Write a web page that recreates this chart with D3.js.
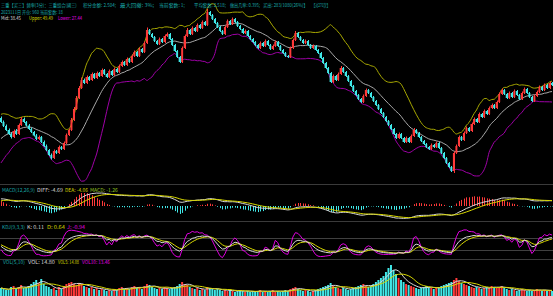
<!DOCTYPE html>
<html>
<head>
<meta charset="utf-8">
<script src="https://cdn.jsdelivr.net/npm/d3@7"></script>
<style>
  html, body { margin: 0; padding: 0; background: #000; overflow: hidden; }
  svg { display: block; }
</style>
</head>
<body>
<script>
// ---- data ----
var warmCloses = [8.0,7.0,6.5,7.0,8.0,7.5,8.5,9.0,10.0,9.5,10.5,11.0,12.0,11.5,13.0,14.0,13.5,14.5,15.5,16.0];

var opens = [
16.4,15.6,14.8,14.0,13.2,12.6,13.8,13.2,15.0,16.2,
15.6,14.9,14.2,13.6,12.9,12.2,12.6,11.6,10.8,10.0,
9.0,8.4,9.8,9.4,10.6,10.2,11.4,13.0,14.0,16.0,
18.2,20.4,22.4,24.0,23.4,24.6,24.0,25.2,24.4,25.4,
24.8,26.0,25.2,24.6,25.8,25.0,26.2,25.6,26.8,27.6,
27.0,28.2,27.6,28.8,29.6,28.8,30.2,29.6,31.4,34.0,
33.2,32.6,31.8,31.2,32.2,31.6,32.8,33.2,32.2,31.0,
29.8,28.6,27.6,30.4,32.8,34.0,33.2,34.4,33.8,35.0,
34.4,35.6,35.0,37.6,37.0,36.2,35.4,34.6,33.8,33.2,
34.6,35.8,35.2,36.2,35.6,34.8,34.2,33.4,33.8,32.8,
32.2,31.6,31.0,30.4,31.4,30.8,31.8,31.0,30.2,30.8,
31.6,30.8,30.0,29.4,28.8,28.6,30.4,32.0,33.4,32.6,
32.0,31.4,31.8,31.0,30.4,30.8,30.0,29.4,28.4,27.4,
26.4,25.4,23.6,24.8,24.0,25.2,26.4,25.6,24.8,23.8,
22.8,21.8,21.0,20.2,19.6,20.8,22.0,21.4,20.6,19.8,
19.0,18.2,17.4,16.6,15.8,15.0,14.2,13.2,12.4,13.2,
12.4,11.6,12.4,11.6,12.8,14.0,13.4,12.6,11.8,11.2,
10.6,10.2,11.0,10.6,11.4,10.4,9.4,8.4,7.4,6.6,
5.8,9.4,10.8,12.6,12.0,13.4,14.4,13.8,15.2,16.2,
15.6,17.2,16.6,17.8,17.2,18.4,19.0,18.4,19.6,21.2,
22.0,21.2,20.4,21.4,20.6,21.8,21.0,20.2,21.4,22.2,
21.4,20.6,19.8,20.8,21.6,22.6,22.0,23.0,22.4,23.4];

var closes = [
15.6,14.8,14.0,13.2,12.6,13.8,13.2,15.0,16.2,15.6,
14.9,14.2,13.6,12.9,12.2,12.6,11.6,10.8,10.0,9.0,
8.4,9.8,9.4,10.6,10.2,11.4,13.0,14.0,16.0,18.2,
20.4,22.4,24.0,23.4,24.6,24.0,25.2,24.4,25.4,24.8,
26.0,25.2,24.6,25.8,25.0,26.2,25.6,26.8,27.6,27.0,
28.2,27.6,28.8,29.6,28.8,30.2,29.6,31.4,34.0,33.2,
32.6,31.8,31.2,32.2,31.6,32.8,33.2,32.2,31.0,29.8,
28.6,27.6,30.4,32.8,34.0,33.2,34.4,33.8,35.0,34.4,
35.6,35.0,37.6,37.0,36.2,35.4,34.6,33.8,33.2,34.6,
35.8,35.2,36.2,35.6,34.8,34.2,33.4,33.8,32.8,32.2,
31.6,31.0,30.4,31.4,30.8,31.8,31.0,30.2,30.8,31.6,
30.8,30.0,29.4,28.8,28.6,30.4,32.0,33.4,32.6,32.0,
31.4,31.8,31.0,30.4,30.8,30.0,29.4,28.4,27.4,26.4,
25.4,23.6,24.8,24.0,25.2,26.4,25.6,24.8,23.8,22.8,
21.8,21.0,20.2,19.6,20.8,22.0,21.4,20.6,19.8,19.0,
18.2,17.4,16.6,15.8,15.0,14.2,13.2,12.4,13.2,12.4,
11.6,12.4,11.6,12.8,14.0,13.4,12.6,11.8,11.2,10.6,
10.2,11.0,10.6,11.4,10.4,9.4,8.4,7.4,6.6,5.8,
9.4,10.8,12.6,12.0,13.4,14.4,13.8,15.2,16.2,15.6,
17.2,16.6,17.8,17.2,18.4,19.0,18.4,19.6,21.2,22.0,
21.2,20.4,21.4,20.6,21.8,21.0,20.2,21.4,22.2,21.4,
20.6,19.8,20.8,21.6,22.6,22.0,23.0,22.4,23.4,23.0];

var highs = [
16.7,15.9,15.1,14.3,13.5,14.1,14.2,15.3,16.6,16.5,
15.8,15.2,14.5,13.8,13.2,12.9,12.8,11.9,11.1,10.2,
9.3,10.1,10.0,10.9,10.8,11.7,13.3,14.3,16.4,18.6,
20.8,22.8,24.5,24.3,24.9,24.8,25.5,25.4,25.7,25.6,
26.3,26.2,25.4,26.1,26.0,26.5,26.4,27.1,27.9,27.8,
28.5,28.4,29.1,29.9,29.8,30.5,30.4,31.7,34.5,34.2,
33.4,32.8,32.0,32.5,32.4,33.1,33.5,33.4,32.4,31.2,
30.0,28.8,30.7,33.1,34.4,34.2,34.7,34.6,35.3,35.2,
35.9,35.8,38.2,37.8,37.2,36.4,35.6,34.8,34.0,34.9,
36.1,36.0,36.5,36.4,35.8,35.0,34.4,34.1,34.0,33.0,
32.4,31.8,31.2,31.7,31.6,32.1,32.0,31.2,31.1,31.9,
31.8,31.0,30.2,29.6,29.0,30.7,32.3,33.8,33.6,32.8,
32.2,32.1,32.0,31.2,31.1,31.0,30.2,29.6,28.6,27.6,
26.6,25.6,25.1,25.0,25.5,26.8,26.6,25.8,25.0,24.0,
23.0,22.0,21.2,20.4,21.1,22.3,22.2,21.6,20.8,20.0,
19.2,18.4,17.6,16.8,16.0,15.2,14.4,13.4,13.5,13.4,
12.6,12.7,12.6,13.1,14.4,14.2,13.6,12.8,12.0,11.4,
10.8,11.3,11.2,11.7,11.6,10.6,9.6,8.6,7.6,6.8,
9.7,11.1,12.9,12.8,13.7,14.7,14.6,15.5,16.5,16.4,
17.5,17.4,18.1,18.0,18.7,19.3,19.2,19.9,21.5,22.3,
22.2,21.4,21.7,21.6,22.1,22.0,21.2,21.7,22.5,22.4,
21.6,20.8,21.1,21.9,22.9,22.8,23.3,23.2,23.7,23.6];

var lows = [
15.4,14.6,13.8,13.0,12.3,12.4,13.0,13.0,14.8,15.4,
14.7,14.0,13.4,12.7,12.0,12.0,11.4,10.6,9.8,8.8,
8.1,8.2,9.2,9.2,10.0,10.0,11.2,12.8,13.8,15.8,
18.0,20.2,22.2,23.2,23.2,23.8,23.8,24.2,24.2,24.6,
24.6,25.0,24.4,24.4,24.8,24.8,25.4,25.4,26.6,26.8,
26.8,27.4,27.4,28.6,28.6,28.6,29.4,29.4,31.2,33.0,
32.4,31.6,31.0,31.0,31.4,31.4,32.6,32.0,30.8,29.6,
28.4,27.4,27.4,30.2,32.6,33.0,33.0,33.6,33.6,34.2,
34.2,34.8,34.8,36.8,36.0,35.2,34.4,33.6,33.0,33.0,
34.4,35.0,35.0,35.4,34.6,34.0,33.2,33.2,32.6,32.0,
31.4,30.8,30.2,30.2,30.6,30.6,30.8,30.0,30.0,30.6,
30.6,29.8,29.2,28.6,28.4,28.4,30.2,31.8,32.4,31.8,
31.2,31.2,30.8,30.2,30.2,29.8,29.2,28.2,27.2,26.2,
25.2,23.4,23.4,23.8,23.8,25.0,25.4,24.6,23.6,22.6,
21.6,20.8,20.0,19.4,19.4,20.6,21.2,20.4,19.6,18.8,
18.0,17.2,16.4,15.6,14.8,14.0,13.0,12.2,12.2,12.2,
11.4,11.4,11.4,11.4,12.6,13.2,12.4,11.6,11.0,10.4,
10.0,10.0,10.4,10.4,10.2,9.2,8.2,7.2,6.4,5.6,
5.4,9.2,10.6,11.8,11.8,13.2,13.6,13.6,15.0,15.4,
15.4,16.4,16.4,17.0,17.0,18.2,18.2,18.2,19.4,21.0,
21.0,20.2,20.2,20.4,20.4,20.8,20.0,20.0,21.2,21.2,
20.4,19.6,19.6,20.6,21.4,21.8,21.8,22.2,22.2,22.8];

var volumes = [
8,7,6,6,9,10,7,9,11,8,
9,10,12,14,16,13,17,12,10,9,
7,8,6,9,7,10,12,13,14,12,
11,13,12,10,9,8,9,7,8,6,
7,6,5,6,5,7,6,8,9,7,
8,7,9,10,8,9,7,10,12,11,
9,8,7,8,7,9,8,7,8,9,
10,12,14,12,11,9,8,7,8,6,
7,6,9,8,7,6,7,6,5,6,
5,6,5,4,5,6,5,4,5,4,
5,4,5,6,4,5,4,5,6,4,
5,4,5,6,5,7,8,9,7,6,
5,6,5,4,5,6,7,8,9,10,
11,13,10,9,8,7,8,7,6,7,
8,9,10,11,12,10,9,10,12,14,
16,18,20,24,28,31,26,22,18,16,
14,12,11,10,9,8,7,8,9,10,
9,8,7,8,9,10,11,12,13,14,
16,18,15,13,12,11,10,9,8,9,
8,7,8,9,8,10,9,8,9,10,
8,7,6,7,6,5,6,7,6,5,
6,5,6,7,6,5,6,5,6,5];

var titleLine1 = ['三重【买三】频率(3分)：三重组合(阈三)', '积分金额: 2.504;', '最大回撤: 3%;', '当前套数: 1;',
                  '平均套数: 2.518;', '做出几率: 0.395;', '买出: 283/1080(26%)】', '【对270次】'];
var titleLine2 = ['2023111日 开仓: 960 当前套数: 18'];
var bollLabels = ['Mid: 38.45', 'Upper: 49.49', 'Lower: 27.44'];
var macdLabels = ['MACD(12,26,9)', 'DIFF: -4.69', 'DEA: -4.06', 'MACD: -1.26'];
var kdjLabels = ['KDJ(9,3,3)', 'K: 0.11', 'D: 0.64', 'J: -0.94'];
var volLabels = ['VOL(5,10)', 'VOL: 14.80', 'VOL5: 14.08', 'VOL10: 13.46'];

// ---- layout ----
var $svg = {width: 553, height: 296};
var $panel = {
    main: [0, 184],
    macd: [185, 221],
    kdj: [222, 259],
    vol: [260, 296]
};
var $col = {
    up: '#ff3a3a', down: '#40e8e8', label: '#18a8a8',
    white: '#d8d8d8', yellow: '#d8d800', magenta: '#e000e0',
    upper: '#a8a800', mid: '#a8a8a8', lower: '#a000a8', grid: '#3a3a3a'
};
var $font = "'Noto Sans CJK SC', 'DejaVu Sans', sans-serif";
var $bollPeriod = 15;

var x, bw;

function init () {
    $svg.main = (
        d3.select('body').append('svg')
        .attr('width', $svg.width)
        .attr('height', $svg.height)
        .style('background', '#000')
    );
    x = (
        d3.scaleBand()
        .domain(d3.range(closes.length))
        .range([0, $svg.width])
        .paddingInner(0.22)
    );
    bw = x.bandwidth();

    makeClips();
    drawSeparators();
    drawPrice();
    drawMacd();
    drawKdj();
    drawVol();
    drawLabels();
}

function makeClips () {
    var defs = $svg.main.append('defs');
    Object.keys($panel).forEach((k) => {
        defs.append('clipPath').attr('id', 'clip-' + k)
            .append('rect')
            .attr('x', 0).attr('y', $panel[k][0])
            .attr('width', $svg.width).attr('height', $panel[k][1] - $panel[k][0]);
    });
}

function drawSeparators () {
    [$panel.macd[0] - 0.5, $panel.kdj[0] - 0.5, $panel.vol[0] - 0.5].forEach((y) => {
        $svg.main.append('line')
            .attr('x1', 0).attr('x2', $svg.width)
            .attr('y1', y).attr('y2', y)
            .attr('stroke', $col.grid).attr('stroke-width', 1);
    });
}

function cx (i) {
    return x(i) + bw / 2;
}

// ---- indicators ----
function ema (values, n) {
    var k = 2 / (n + 1), out = [], prev = values[0];
    values.forEach((v, i) => {
        prev = i === 0 ? v : v * k + prev * (1 - k);
        out.push(prev);
    });
    return out;
}

function movingAvg (values, n) {
    return values.map((v, i) => d3.mean(values.slice(Math.max(0, i - n + 1), i + 1)));
}

function bollinger () {
    var all = warmCloses.concat(closes);
    var off = warmCloses.length;
    var n = $bollPeriod;
    return closes.map((c, i) => {
        var win = all.slice(i + off - n + 1, i + off + 1);
        var m = d3.mean(win);
        var sd = Math.sqrt(d3.mean(win, (v) => (v - m) * (v - m)));
        return {i: i, mid: m, upper: m + 2 * sd, lower: m - 2 * sd};
    });
}

function macd () {
    var all = warmCloses.concat(closes);
    var off = warmCloses.length;
    var e12 = ema(all, 12), e26 = ema(all, 26);
    var dif = all.map((v, i) => e12[i] - e26[i]);
    var dea = ema(dif, 9);
    return closes.map((c, i) => ({
        i: i,
        dif: dif[i + off],
        dea: dea[i + off],
        bar: 2 * (dif[i + off] - dea[i + off])
    }));
}

function kdj () {
    var k = 50, d = 50;
    return closes.map((c, i) => {
        var lo = d3.min(lows.slice(Math.max(0, i - 8), i + 1));
        var hi = d3.max(highs.slice(Math.max(0, i - 8), i + 1));
        var rsv = hi === lo ? 50 : (c - lo) / (hi - lo) * 100;
        k = (2 * k + rsv) / 3;
        d = (2 * d + k) / 3;
        return {i: i, k: k, d: d, j: 3 * k - 2 * d};
    });
}

// ---- panels ----
function drawPrice () {
    var y = d3.scaleLinear().domain([0, 40]).range([200, 0]);
    var g = $svg.main.append('g').attr('clip-path', 'url(#clip-main)');
    var boll = bollinger();

    [['upper', $col.upper], ['mid', $col.mid], ['lower', $col.lower]].forEach(([key, color]) => {
        g.append('path')
            .datum(boll)
            .attr('fill', 'none')
            .attr('stroke', color)
            .attr('stroke-width', 1)
            .attr('d', d3.line().x((d) => cx(d.i)).y((d) => y(d[key])).curve(d3.curveMonotoneX));
    });

    var candle = g.selectAll('g.candle')
        .data(closes.map((c, i) => i))
        .join('g')
        .attr('class', 'candle');
    candle.append('line')
        .attr('x1', (i) => Math.round(cx(i)) + 0.5)
        .attr('x2', (i) => Math.round(cx(i)) + 0.5)
        .attr('y1', (i) => y(highs[i]))
        .attr('y2', (i) => y(lows[i]))
        .attr('stroke', (i) => closes[i] >= opens[i] ? $col.up : $col.down)
        .attr('stroke-width', 1);
    candle.append('rect')
        .attr('x', (i) => x(i))
        .attr('width', bw)
        .attr('y', (i) => y(Math.max(opens[i], closes[i])))
        .attr('height', (i) => Math.max(1, Math.abs(y(opens[i]) - y(closes[i]))))
        .attr('fill', (i) => closes[i] >= opens[i] ? $col.up : $col.down);
}

function drawMacd () {
    var data = macd();
    var top = $panel.macd[0] + 8, bottom = $panel.macd[1] - 2;
    var extLine = d3.max(data, (d) => Math.max(Math.abs(d.dif), Math.abs(d.dea)));
    var extBar = d3.max(data, (d) => Math.abs(d.bar));
    var y = d3.scaleLinear().domain([-extLine, extLine]).range([bottom, top]);
    // histogram gets its own stretch, as in the reference
    var yBar = d3.scaleLinear().domain([-extBar, extBar]).range([bottom, top]);
    var g = $svg.main.append('g').attr('clip-path', 'url(#clip-macd)');

    g.selectAll('line.bar')
        .data(data)
        .join('line')
        .attr('class', 'bar')
        .attr('x1', (d) => Math.round(cx(d.i)) + 0.5)
        .attr('x2', (d) => Math.round(cx(d.i)) + 0.5)
        .attr('y1', yBar(0))
        .attr('y2', (d) => yBar(d.bar))
        .attr('stroke', (d) => d.bar >= 0 ? $col.up : $col.down)
        .attr('stroke-width', 1);

    [['dif', $col.white], ['dea', $col.yellow]].forEach(([key, color]) => {
        g.append('path')
            .datum(data)
            .attr('fill', 'none')
            .attr('stroke', color)
            .attr('stroke-width', 1)
            .attr('d', d3.line().x((d) => cx(d.i)).y((d) => y(d[key])));
    });
}

function drawKdj () {
    var data = kdj();
    var y = d3.scaleLinear().domain([0, 100]).range([$panel.kdj[1] - 5, $panel.kdj[0] + 12]);
    var g = $svg.main.append('g').attr('clip-path', 'url(#clip-kdj)');

    [20, 80].forEach((v) => {
        g.append('line')
            .attr('x1', 0).attr('x2', $svg.width)
            .attr('y1', Math.round(y(v)) + 0.5).attr('y2', Math.round(y(v)) + 0.5)
            .attr('stroke', '#404040').attr('stroke-width', 1);
    });

    [['j', $col.magenta], ['d', $col.yellow], ['k', $col.white]].forEach(([key, color]) => {
        g.append('path')
            .datum(data)
            .attr('fill', 'none')
            .attr('stroke', color)
            .attr('stroke-width', 1)
            .attr('d', d3.line().x((d) => cx(d.i)).y((d) => y(d[key])));
    });
}

function drawVol () {
    var y = d3.scaleLinear().domain([0, d3.max(volumes)]).range([$panel.vol[1], $panel.vol[0] + 5]);
    var g = $svg.main.append('g').attr('clip-path', 'url(#clip-vol)');
    var ma5 = movingAvg(volumes, 5), ma10 = movingAvg(volumes, 10);

    g.selectAll('rect.vol')
        .data(volumes.map((v, i) => i))
        .join('rect')
        .attr('class', 'vol')
        .attr('x', (i) => x(i))
        .attr('width', bw)
        .attr('y', (i) => y(volumes[i]))
        .attr('height', (i) => y(0) - y(volumes[i]))
        .attr('fill', (i) => closes[i] >= opens[i] ? $col.up : $col.down);

    [[ma5, $col.white], [ma10, $col.yellow]].forEach(([vals, color]) => {
        g.append('path')
            .datum(vals)
            .attr('fill', 'none')
            .attr('stroke', color)
            .attr('stroke-width', 1)
            .attr('d', d3.line().x((d, i) => cx(i)).y((d) => y(d)));
    });
}

// ---- texts ----
// each piece is squeezed horizontally to the width it takes in the picture
function textRow (parts, xs, ws, colors, baseline) {
    parts.forEach((t, i) => {
        var el = (
            $svg.main.append('text')
            .attr('font-family', $font)
            .attr('font-size', 5)
            .attr('fill', colors[i])
            .text(t)
        );
        var natural = el.node().getComputedTextLength() || ws[i];
        el.attr('transform', `translate(${xs[i]},${baseline}) scale(${ws[i] / natural},1)`);
    });
}

function drawLabels () {
    var L = $col.label;
    textRow(titleLine1, [1, 83, 120, 159, 194, 230, 263, 312], [76, 33, 34, 26, 32, 30, 45, 18],
        [L, L, L, L, L, L, L, L], 6.5);
    textRow(titleLine2, [1], [62], [L], 13.5);
    textRow(bollLabels, [1, 29, 58], [20, 24, 24], [$col.white, $col.yellow, $col.magenta], 20);
    textRow(macdLabels, [2, 37, 65, 90], [33, 26, 23, 28], [L, $col.white, $col.yellow, '#90c020'], 192);
    textRow(kdjLabels, [2, 27, 47, 67], [23, 17, 18, 18], [L, $col.white, $col.yellow, $col.magenta], 228.5);
    textRow(volLabels, [3, 28, 58, 82], [22, 27, 21, 28], [L, $col.white, $col.yellow, $col.magenta], 264);
}

init();
</script>
</body>
</html>
